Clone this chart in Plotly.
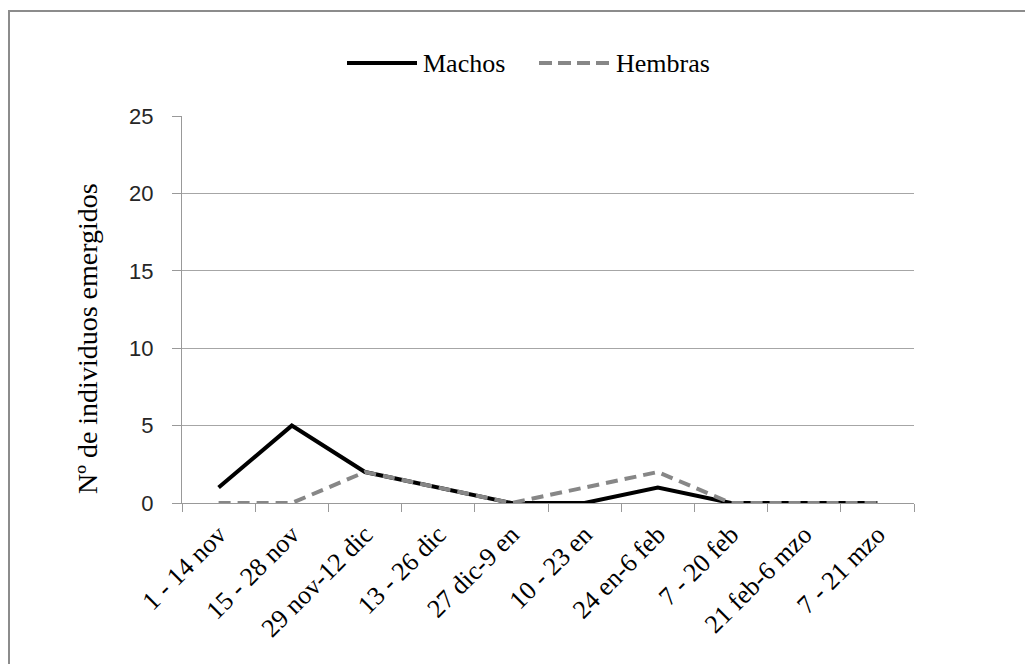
import plotly.graph_objects as go

categories = ["1 - 14 nov", "15 - 28 nov", "29 nov-12 dic", "13 - 26 dic", "27 dic-9 en",
              "10 - 23 en", "24 en-6 feb", "7 - 20 feb", "21 feb-6 mzo", "7 - 21 mzo"]
machos = [1, 5, 2, 1, 0, 0, 1, 0, 0, 0]
hembras = [0, 0, 2, 1, 0, 1, 2, 0, 0, 0]
y_ticks = [0, 5, 10, 15, 20, 25]
series_names = ["Machos", "Hembras"]

W, H = 1033, 664
OFF = 8  # page body margin
L, R, T, B = 182, 914, 116, 503  # plot area in screen pixels

pw, ph = R - L, B - T
def px2x(p): return (p - L) / pw
def py2y(p): return (B - p) / ph

fig = go.Figure()
fig.add_trace(go.Scatter(x=categories, y=machos, mode="lines", name=series_names[0],
                         line=dict(color="#000000", width=4), showlegend=False))
fig.add_trace(go.Scatter(x=categories, y=hembras, mode="lines", name=series_names[1],
                         line=dict(color="#878787", width=4, dash="12px,7px"), showlegend=False))

leg_y = py2y(63)
shapes = [
    dict(type="rect", xref="paper", yref="paper",
         x0=px2x(9), x1=px2x(1080), y0=py2y(720), y1=py2y(11),
         line=dict(color="#8c8c8c", width=2), fillcolor="rgba(0,0,0,0)", layer="below"),
    dict(type="line", xref="paper", yref="paper", x0=px2x(347), x1=px2x(417), y0=leg_y, y1=leg_y,
         line=dict(color="#000000", width=4)),
    dict(type="line", xref="paper", yref="paper", x0=px2x(539), x1=px2x(610), y0=leg_y, y1=leg_y,
         line=dict(color="#878787", width=4, dash="13px,6px")),
]
annotations = [
    dict(xref="paper", yref="paper", x=px2x(421), y=leg_y, xanchor="left", yanchor="middle",
         text=series_names[0], showarrow=False,
         font=dict(family="Liberation Serif", size=26, color="#000")),
    dict(xref="paper", yref="paper", x=px2x(614), y=leg_y, xanchor="left", yanchor="middle",
         text=series_names[1], showarrow=False,
         font=dict(family="Liberation Serif", size=26, color="#000")),
    dict(xref="paper", yref="paper", x=px2x(87), y=py2y(339), xanchor="center", yanchor="middle",
         text="Nº de individuos emergidos", textangle=-90, showarrow=False,
         font=dict(family="Liberation Serif", size=28, color="#000")),
]

fig.update_layout(
    width=W, height=H,
    margin=dict(l=L - OFF, r=W - R + OFF, t=T - OFF, b=H - B + OFF, pad=0),
    paper_bgcolor="white", plot_bgcolor="white",
    showlegend=False,
    xaxis=dict(type="category", tickson="boundaries", ticks="outside", ticklen=8,
               tickcolor="#999999", tickwidth=1, showline=True, linecolor="#999999", linewidth=1,
               showgrid=False, tickangle=-45, ticklabelstandoff=5,
               tickfont=dict(family="Liberation Serif", size=26, color="#000"),
               range=[-0.5, 9.5], zeroline=False),
    yaxis=dict(range=[0, 25], tickvals=y_ticks, ticks="outside", ticklen=9,
               tickcolor="#999999", tickwidth=1, showline=True, linecolor="#999999", linewidth=1,
               showgrid=True, gridcolor="#a6a6a6", gridwidth=1, zeroline=False,
               ticklabelstandoff=14,
               tickfont=dict(family="Liberation Sans", size=22, color="#262626")),
    shapes=shapes,
    annotations=annotations,
)

fig.write_html("out.html")
